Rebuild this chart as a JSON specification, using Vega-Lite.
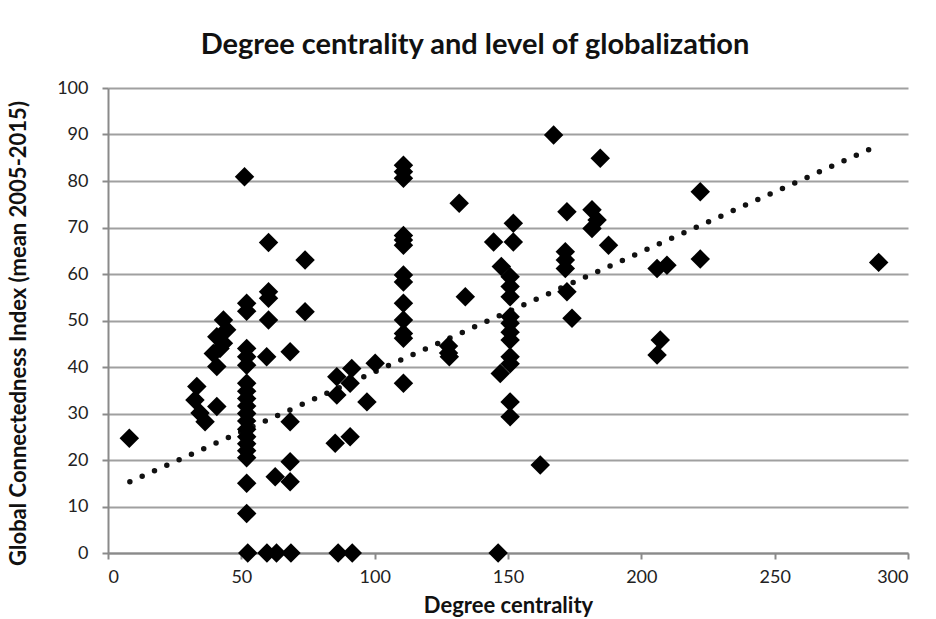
{
  "$schema": "https://vega.github.io/schema/vega-lite/v6.json",
  "width": 800,
  "height": 465,
  "autosize": {"type": "none"},
  "padding": {"left": 108, "top": 88, "right": 28, "bottom": 66},
  "background": "white",
  "title": {
    "text": "Degree centrality and level of globalization",
    "font": "Lato",
    "fontSize": 29,
    "fontWeight": "bold",
    "color": "#111",
    "anchor": "middle",
    "offset": 19,
    "dx": -33
  },
  "config": {
    "view": {"stroke": null},
    "axis": {
      "labelFont": "Lato",
      "labelFontSize": 18,
      "labelColor": "#222",
      "titleFont": "Lato",
      "titleFontSize": 22,
      "titleFontWeight": "bold",
      "titleColor": "#111",
      "domainColor": "#8a8a8a",
      "domainWidth": 2,
      "tickColor": "#8a8a8a",
      "tickWidth": 2,
      "tickSize": 6,
      "gridColor": "#a0a0a0",
      "gridWidth": 2
    }
  },
  "datasets": {
    "points": [
      {"degree": 8, "gci": 24.7},
      {"degree": 33.3, "gci": 35.8}, {"degree": 32.6, "gci": 32.9}, {"degree": 34.5, "gci": 30.1}, {"degree": 36.4, "gci": 28.2}, {"degree": 40.8, "gci": 31.5},
      {"degree": 43.3, "gci": 50.1}, {"degree": 44.5, "gci": 48}, {"degree": 40.8, "gci": 46.5}, {"degree": 43.3, "gci": 45.1}, {"degree": 39.5, "gci": 42.9}, {"degree": 40.8, "gci": 40.1}, {"degree": 42, "gci": 44},
      {"degree": 51.2, "gci": 80.9}, {"degree": 52, "gci": 53.7}, {"degree": 52, "gci": 52}, {"degree": 52, "gci": 44}, {"degree": 52, "gci": 42.2}, {"degree": 52, "gci": 40.4},
      {"degree": 52, "gci": 36.5}, {"degree": 52, "gci": 34.8}, {"degree": 52, "gci": 33.2}, {"degree": 52, "gci": 31.6}, {"degree": 52, "gci": 30}, {"degree": 52, "gci": 28.4},
      {"degree": 52, "gci": 26.6}, {"degree": 52, "gci": 25}, {"degree": 52, "gci": 23.5}, {"degree": 52, "gci": 22}, {"degree": 52, "gci": 20.5}, {"degree": 52, "gci": 15},
      {"degree": 52, "gci": 8.5}, {"degree": 52.4, "gci": 0},
      {"degree": 60.2, "gci": 56.2}, {"degree": 60.2, "gci": 54.8}, {"degree": 60.2, "gci": 50.1}, {"degree": 59.5, "gci": 42.2}, {"degree": 62.7, "gci": 16.4},
      {"degree": 59.6, "gci": 0}, {"degree": 63.2, "gci": 0}, {"degree": 60.2, "gci": 66.8},
      {"degree": 68.3, "gci": 43.3}, {"degree": 68.3, "gci": 28.2}, {"degree": 68.3, "gci": 19.6}, {"degree": 68.3, "gci": 15.3}, {"degree": 68.6, "gci": 0},
      {"degree": 73.9, "gci": 63}, {"degree": 73.9, "gci": 51.9},
      {"degree": 85.8, "gci": 37.9}, {"degree": 85.8, "gci": 34}, {"degree": 90.8, "gci": 36.5}, {"degree": 91.4, "gci": 39.7}, {"degree": 97.1, "gci": 32.5},
      {"degree": 100.2, "gci": 40.8}, {"degree": 90.8, "gci": 25}, {"degree": 85.2, "gci": 23.6}, {"degree": 86.3, "gci": 0}, {"degree": 91.6, "gci": 0},
      {"degree": 110.8, "gci": 83.4}, {"degree": 110.8, "gci": 82}, {"degree": 110.8, "gci": 80.6}, {"degree": 110.8, "gci": 68.3}, {"degree": 110.8, "gci": 67.3},
      {"degree": 110.8, "gci": 66.2}, {"degree": 110.8, "gci": 59.8}, {"degree": 110.8, "gci": 58.3}, {"degree": 110.8, "gci": 53.7}, {"degree": 110.8, "gci": 50.1},
      {"degree": 110.8, "gci": 47.2}, {"degree": 110.8, "gci": 46.2}, {"degree": 110.8, "gci": 36.5},
      {"degree": 131.7, "gci": 75.2}, {"degree": 134, "gci": 55.1}, {"degree": 127.7, "gci": 44.5}, {"degree": 127.7, "gci": 43}, {"degree": 128, "gci": 42.2},
      {"degree": 152, "gci": 70.9}, {"degree": 152, "gci": 66.9}, {"degree": 144.6, "gci": 66.9}, {"degree": 147.5, "gci": 61.6}, {"degree": 150.8, "gci": 59.4},
      {"degree": 150.8, "gci": 57.3}, {"degree": 150.8, "gci": 55.1}, {"degree": 150.8, "gci": 50.8}, {"degree": 150.8, "gci": 49.4}, {"degree": 150.8, "gci": 47.5},
      {"degree": 150.8, "gci": 45.8}, {"degree": 150.8, "gci": 42.2}, {"degree": 150.8, "gci": 40.7}, {"degree": 147.1, "gci": 38.6}, {"degree": 150.8, "gci": 32.5},
      {"degree": 150.8, "gci": 29.3}, {"degree": 146.3, "gci": 0},
      {"degree": 162.1, "gci": 18.9}, {"degree": 167.1, "gci": 89.9},
      {"degree": 172.1, "gci": 73.4}, {"degree": 181.5, "gci": 73.8}, {"degree": 183.4, "gci": 71.6}, {"degree": 181.5, "gci": 69.8}, {"degree": 187.7, "gci": 66.2},
      {"degree": 171.5, "gci": 64.8}, {"degree": 171.5, "gci": 63}, {"degree": 171.5, "gci": 61.2}, {"degree": 172.1, "gci": 56.2}, {"degree": 174, "gci": 50.5},
      {"degree": 184.6, "gci": 84.9},
      {"degree": 205.9, "gci": 61.2}, {"degree": 209.6, "gci": 61.9}, {"degree": 207.1, "gci": 45.8}, {"degree": 205.9, "gci": 42.6},
      {"degree": 222.1, "gci": 77.7}, {"degree": 222.1, "gci": 63.2},
      {"degree": 289, "gci": 62.5}
    ],
    "trend": [
      {"degree": 8.2, "gci": 15.3},
      {"degree": 289, "gci": 87.7}
    ]
  },
  "layer": [
    {
      "data": {"name": "trend"},
      "mark": {"type": "line", "color": "#111", "strokeWidth": 5.5, "strokeCap": "round", "strokeDash": [0, 13.5]},
      "encoding": {
        "x": {"field": "degree", "type": "quantitative"},
        "y": {"field": "gci", "type": "quantitative"}
      }
    },
    {
      "data": {"name": "points"},
      "mark": {"type": "point", "shape": "diamond", "filled": true, "size": 380, "color": "#000", "opacity": 1},
      "encoding": {
        "x": {
          "field": "degree",
          "type": "quantitative",
          "scale": {"domain": [0, 300], "nice": false, "zero": false},
          "axis": {
            "title": "Degree centrality",
            "values": [0, 50, 100, 150, 200, 250, 300],
            "grid": false,
            "labelPadding": 9,
            "titlePadding": 9
          }
        },
        "y": {
          "field": "gci",
          "type": "quantitative",
          "scale": {"domain": [0, 100], "nice": false},
          "axis": {
            "title": "Global Connectedness Index (mean 2005-2015)",
            "values": [0, 10, 20, 30, 40, 50, 60, 70, 80, 90, 100],
            "grid": true,
            "labelPadding": 14,
            "titleX": -78,
            "titleY": 245
          }
        }
      }
    }
  ]
}
